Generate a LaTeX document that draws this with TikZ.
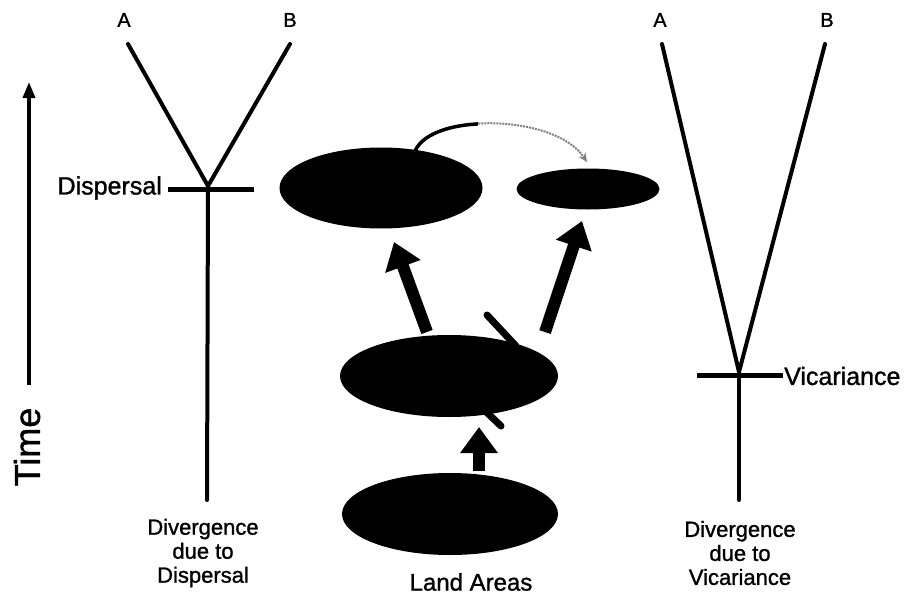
\documentclass[tikz,border=0pt]{standalone}
\usepackage{fontspec}
\setmainfont{Liberation Sans}
\newfontfamily\heavy{Liberation Sans}[FakeBold=1.2]
\usetikzlibrary{arrows.meta,shapes.geometric}
\begin{document}
\begin{tikzpicture}[x=1pt,y=-1pt,
  tree/.style={line width=4pt, line cap=round},
  bar/.style={line width=5pt},
  land/.style={ellipse, fill=black, draw=none, inner sep=0pt},
  fat/.style={line width=12pt, -{Triangle[width=36pt,length=26pt]}},
  cut/.style={line width=7pt, line cap=round},
  lbl/.style={inner sep=0pt, font=\heavy\fontsize{25}{24}\selectfont},
  dlbl/.style={inner sep=0pt, align=center, font=\heavy\fontsize{22}{24}\selectfont},
  ab/.style={inner sep=0pt, font=\heavy\fontsize{20}{20}\selectfont}]
\useasboundingbox (0,0) rectangle (907,594);

% Time axis
\coordinate (t0) at (29,385);
\coordinate (t1) at (29,82);
\draw[line width=3.5pt, -{Triangle[width=12pt,length=16pt]}] (t0) -- (t1);
\node[inner sep=0pt, rotate=90, font=\heavy\fontsize{36}{36}\selectfont] (time) at (27,447) {Time};

% Left tree (dispersal)
\node[ab] (lA) at (124,20) {A};
\node[ab] (lB) at (290,20) {B};
\coordinate (la) at (128,44);
\coordinate (lb) at (290,44);
\coordinate (lj) at (208,186);
\coordinate (lr) at (207,500);
\coordinate (lbar1) at (168,189);
\coordinate (lbar2) at (254,189);
\draw[tree] (la) -- (lj) -- (lb);
\draw[tree] (lj) -- (lr);
\draw[bar] (lbar1) -- (lbar2);
\node[lbl, anchor=east] (disp) at (162,188) {Dispersal};
\node[dlbl] (ldiv) at (203,553) {Divergence\\due to\\Dispersal};

% Right tree (vicariance)
\node[ab] (rA) at (660,20) {A};
\node[ab] (rB) at (827,20) {B};
\coordinate (ra) at (662,44);
\coordinate (rb) at (825,44);
\coordinate (rj) at (739,372);
\coordinate (rr) at (739,500);
\coordinate (rbar1) at (697,375);
\coordinate (rbar2) at (783,375);
\draw[tree] (ra) -- (rj) -- (rb);
\draw[tree] (rj) -- (rr);
\draw[bar] (rbar1) -- (rbar2);
\node[lbl, anchor=west] (vic) at (784,376) {Vicariance};
\node[dlbl] (rdiv) at (740,553) {Divergence\\due to\\Vicariance};

% barrier cut marks (behind middle land)
\coordinate (c1) at (487,315);
\coordinate (c2) at (516,346);
\coordinate (c3) at (480,406);
\coordinate (c4) at (501,426);
\draw[cut] (c1) -- (c2);
\draw[cut] (c3) -- (c4);

% Land areas
\node[land, minimum width=203pt, minimum height=81pt] (tl) at (381,188) {};
\node[land, minimum width=143pt, minimum height=41pt] (tr) at (588,189) {};
\node[land, minimum width=218pt, minimum height=82pt] (mid) at (449,376) {};
\node[land, minimum width=216pt, minimum height=82pt] (bot) at (450,514) {};
\node[inner sep=0pt, font=\heavy\fontsize{24}{24}\selectfont] (landlbl) at (471,582) {Land Areas};

% thick arrows
\coordinate (a1s) at (427,332);
\coordinate (a1e) at (394,242);
\coordinate (a2s) at (545,332);
\coordinate (a2e) at (582,221);
\coordinate (a3s) at (479,471);
\coordinate (a3e) at (479,427);
\draw[fat] (a1s) -- (a1e);
\draw[fat] (a2s) -- (a2e);
\draw[fat] (a3s) -- (a3e);

% dispersal curved arrow
\coordinate (d0) at (415,151);
\coordinate (d1) at (587,162);
\draw[gray, line width=2pt, densely dotted, -{Stealth[length=9pt,width=8pt]}] (d0) .. controls (432,112) and (555,114) .. (d1);
\begin{scope}
\clip (400,100) rectangle (478,160);
\draw[black, line width=3.5pt] (d0) .. controls (432,112) and (555,114) .. (d1);
\end{scope}
\end{tikzpicture}
\end{document}
